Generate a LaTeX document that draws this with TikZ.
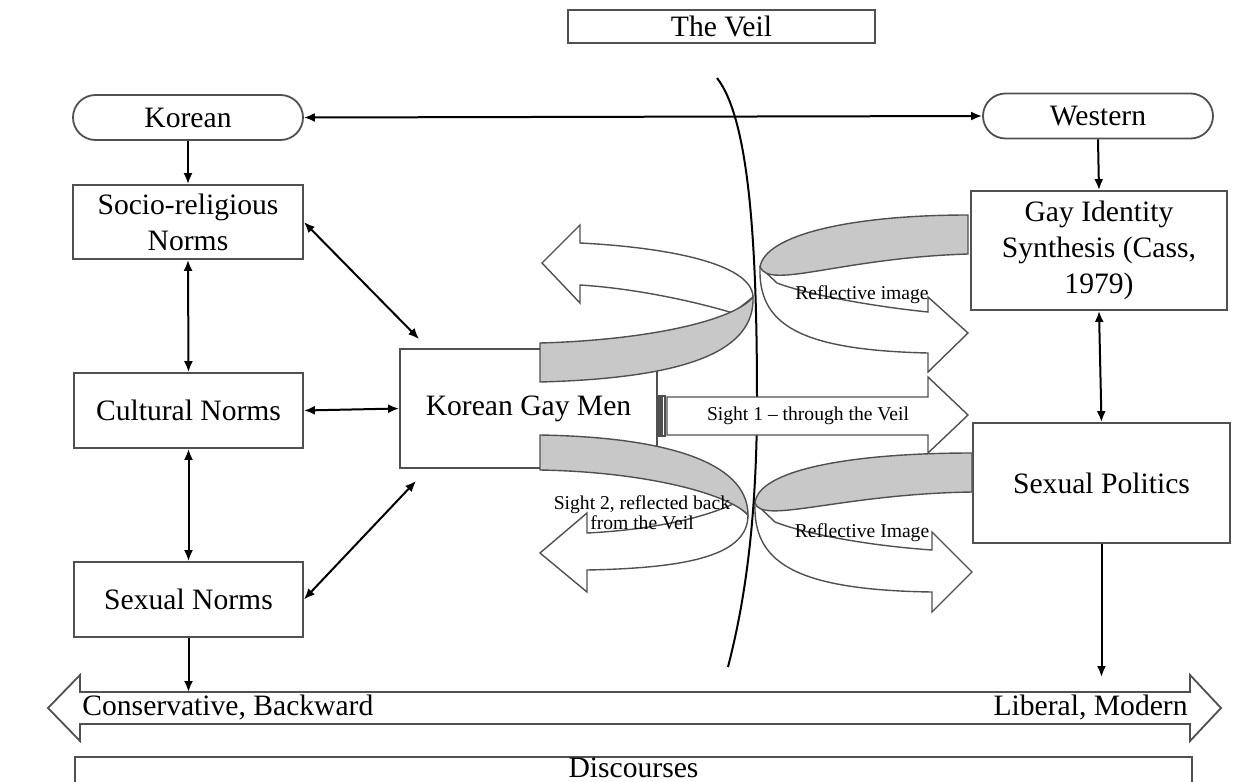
\documentclass[tikz,border=0pt]{standalone}
\usepackage{fontspec}
\setmainfont{Liberation Serif}
\usetikzlibrary{arrows.meta,calc}
\definecolor{boxgray}{HTML}{505050}
\definecolor{ribbongray}{HTML}{C8C8C8}
\newcommand{\bigtxt}{\fontsize{14.8}{18}\selectfont}
\newcommand{\smalltxt}{\fontsize{9.8}{10}\selectfont}

\begin{document}
\begin{tikzpicture}[x=0.5pt,y=-0.5pt]
	\tikzstyle{every node}=[font=\bigtxt,inner sep=1pt]
	\tikzstyle{box}=[draw=boxgray,line width=0.9pt,fill=white,align=center]
	\tikzstyle{pill}=[box,rounded corners=11.25pt,minimum width=115pt,minimum height=22.5pt]
	\tikzstyle{arr}=[line width=1pt,-{Latex[length=5.5pt,width=4.5pt]}]
	\tikzstyle{dblarr}=[line width=1pt,{Latex[length=5.5pt,width=4.5pt]}-{Latex[length=5.5pt,width=4.5pt]}]
	\tikzstyle{band}=[draw=boxgray,line width=0.7pt,fill=ribbongray]
	\tikzstyle{face}=[draw=boxgray,line width=0.7pt,fill=white]
	\tikzstyle{small}=[font=\smalltxt,align=center]
	\clip (0,0) rectangle (1250,782);
	% boxes
	\node[box,minimum width=153.5pt,minimum height=16.5pt] (veil) at (721.5,26.5) {The Veil};
	\node[pill] (korean) at (188,117.5) {Korean};
	\node[pill] (western) at (1098,116) {Western};
	\node[box,minimum width=115pt,minimum height=37pt] (socio) at (188,222) {Socio-religious\\Norms};
	\node[box,minimum width=114.5pt,minimum height=37.5pt] (cultural) at (188.5,410.5) {Cultural Norms};
	\node[box,minimum width=114.5pt,minimum height=37.5pt] (sexual) at (188.5,599.5) {Sexual Norms};
	\node[box,minimum width=128.5pt,minimum height=59.5pt] (kgm) at (528.5,408.5) {Korean Gay Men};
	\node[box,minimum width=128pt,minimum height=59.5pt] (gis) at (1099,250.5) {Gay Identity\\Synthesis (Cass,\\1979)};
	\node[box,minimum width=128.5pt,minimum height=60pt] (sp) at (1101.5,483) {Sexual Politics};
	\draw[box] (75,757) rectangle (1192,790);
	\node (disc) at (633.5,768) {Discourses};

	% scale of discourses
	\draw[box] (48,708) -- (80,675) -- (80,692) -- (1190,692) -- (1190,675) -- (1221,708)
		-- (1190,741) -- (1190,724) -- (80,724) -- (80,741) -- cycle;
	\node[anchor=west] (cons) at (80,708) {Conservative, Backward};
	\node[anchor=east] (lib) at (1190,708) {Liberal, Modern};
	\coordinate (bandtop) at (0,692);
	\coordinate (spstop) at (0,677);

	% connectors
	\draw[arr] (korean.south) -- (socio.north);
	\draw[dblarr] (korean.east) -- (western.west);
	\draw[arr] (western.south) -- (gis.north);
	\draw[dblarr] (socio.south) -- (cultural.north);
	\draw[dblarr] (cultural.south) -- (sexual.north);
	\draw[dblarr] (gis.south) -- (sp.north);
	\draw[dblarr] (socio.east) -- ($(kgm.north west)+(20,-9)$);
	\draw[dblarr] (cultural.east) -- (kgm.west);
	\draw[dblarr] (sexual.east) -- ($(kgm.south west)+(17,12)$);
	\draw[arr] (sexual.south) -- (sexual.south |- bandtop);
	\draw[arr] (sp.south) -- (sp.south |- spstop);

	% reflected ribbons, white side
	\draw[face] (542,263) -- (580,225) -- (580,243) .. controls (660,247) and (752,262) .. (753,297)
		-- (733,313) .. controls (690,300) and (630,288) .. (580,285) -- (580,303) -- cycle;
	\draw[face] (540,553) -- (587,513) -- (587,533) .. controls (650,530) and (705,518) .. (735,503)
		-- (748,515) .. controls (748,555) and (690,568) .. (587,570) -- (587,592) -- cycle;
	\draw[face] (968,333) -- (928,297) -- (928,312) .. controls (860,305) and (800,292) .. (777,283)
		-- (760,267) .. controls (758,325) and (800,350) .. (928,353) -- (928,372) -- cycle;
	\draw[face] (972,572) -- (932,532) -- (932,550) .. controls (860,545) and (800,532) .. (775,522)
		-- (755,503) .. controls (753,560) and (790,590) .. (932,592) -- (932,612) -- cycle;
	% reflected ribbons, grey side
	\draw[band] (540,343) .. controls (650,340) and (735,320) .. (753,297)
		.. controls (755,350) and (690,378) .. (540,382) -- cycle;
	\draw[band] (540,435) .. controls (660,437) and (748,460) .. (748,515)
		.. controls (730,495) and (650,472) .. (540,470) -- cycle;
	\draw[band] (968,215) .. controls (850,215) and (765,235) .. (760,267)
		.. controls (770,290) and (840,258) .. (968,254) -- cycle;
	\draw[band] (972,453) .. controls (850,453) and (758,470) .. (755,503)
		.. controls (762,525) and (840,494) .. (972,492) -- cycle;

	% the veil
	\draw[line width=1pt] (717,78) .. controls (750,120) and (757,250) .. (757,400)
		.. controls (757,540) and (740,620) .. (728,667);

	% sight 1
	\draw[face] (658,396) rectangle (660,436);
	\draw[face] (662,396) rectangle (665,436);
	\draw[face] (667,397) -- (928,397) -- (928,377) -- (968,415) -- (928,453) -- (928,435) -- (667,435) -- cycle;

	\node[small] (sight1) at (808,416) {Sight 1 \textendash\ through the Veil};
	\node[small] (sight2) at (642,513) {Sight 2, reflected back\\from the Veil};
	\node[small] (refl1) at (862,295) {Reflective image};
	\node[small] (refl2) at (862,533) {Reflective Image};
\end{tikzpicture}
\end{document}
